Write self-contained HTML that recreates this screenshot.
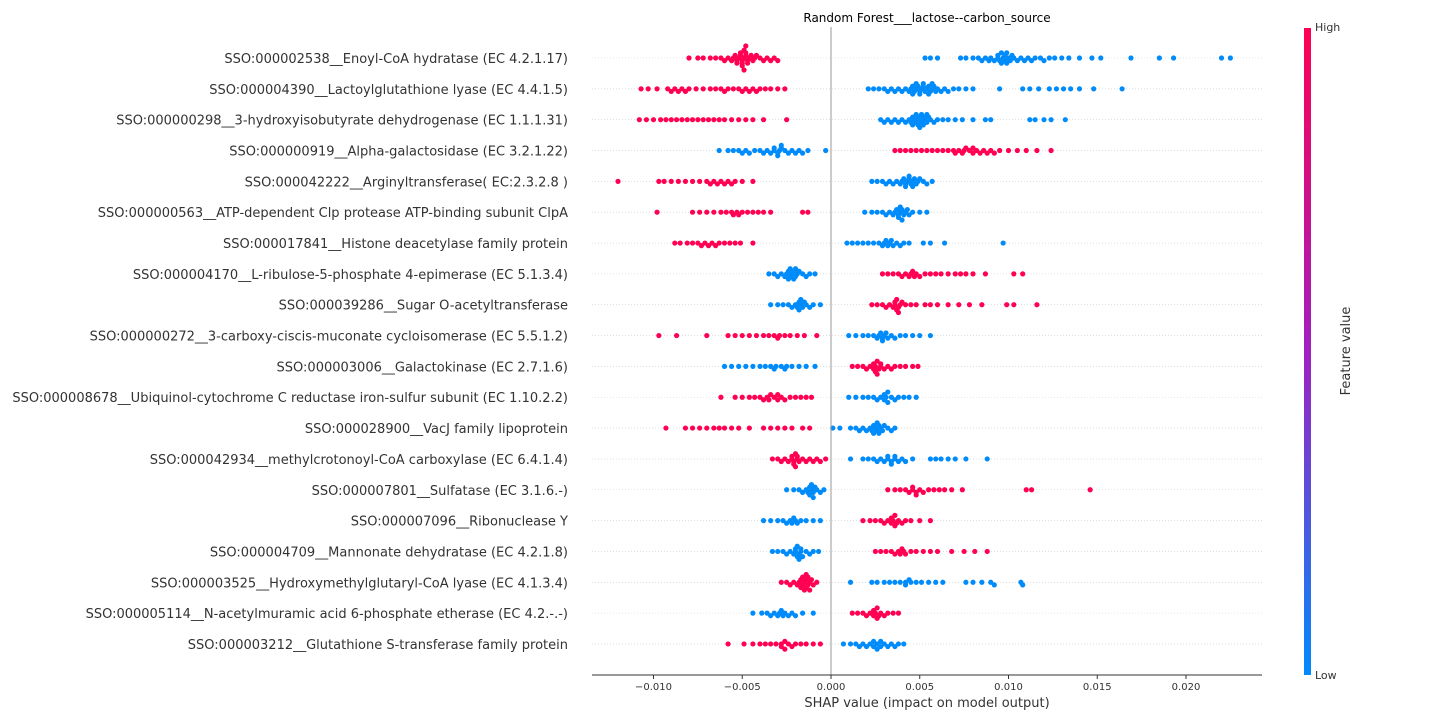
<!DOCTYPE html>
<html><head><meta charset="utf-8"><style>
body{margin:0;background:#fff;font-family:"Liberation Sans","DejaVu Sans",sans-serif}
svg text{font-family:"DejaVu Sans","Liberation Sans",sans-serif}
</style></head><body>
<svg id="chart" width="1440" height="720" xmlns="http://www.w3.org/2000/svg">
<defs><linearGradient id="cg" x1="0" y1="0" x2="0" y2="1"><stop offset="0" stop-color="#ff0052"/><stop offset="0.5" stop-color="#a020c0"/><stop offset="1" stop-color="#008bfb"/></linearGradient></defs>
<text x="927" y="22" text-anchor="middle" font-size="12" fill="#000">Random Forest___lactose--carbon_source</text>
<g id="grid"></g><g id="labels"></g><g id="dots"></g><g id="axis"></g>
<rect x="1304" y="28" width="7" height="647" fill="url(#cg)"/>
<text x="1315" y="31" font-size="11" fill="#333">High</text>
<text x="1315" y="679" font-size="11" fill="#333">Low</text>
<text transform="translate(1350,351) rotate(-90)" text-anchor="middle" font-size="13" fill="#333">Feature value</text>
<text x="927" y="707" text-anchor="middle" font-size="13" fill="#333">SHAP value (impact on model output)</text>
</svg>
<script>
const features=["SSO:000002538__Enoyl-CoA hydratase (EC 4.2.1.17)","SSO:000004390__Lactoylglutathione lyase (EC 4.4.1.5)","SSO:000000298__3-hydroxyisobutyrate dehydrogenase (EC 1.1.1.31)","SSO:000000919__Alpha-galactosidase (EC 3.2.1.22)","SSO:000042222__Arginyltransferase( EC:2.3.2.8 )","SSO:000000563__ATP-dependent Clp protease ATP-binding subunit ClpA","SSO:000017841__Histone deacetylase family protein","SSO:000004170__L-ribulose-5-phosphate 4-epimerase (EC 5.1.3.4)","SSO:000039286__Sugar O-acetyltransferase","SSO:000000272__3-carboxy-ciscis-muconate cycloisomerase (EC 5.5.1.2)","SSO:000003006__Galactokinase (EC 2.7.1.6)","SSO:000008678__Ubiquinol-cytochrome C reductase iron-sulfur subunit (EC 1.10.2.2)","SSO:000028900__VacJ family lipoprotein","SSO:000042934__methylcrotonoyl-CoA carboxylase (EC 6.4.1.4)","SSO:000007801__Sulfatase (EC 3.1.6.-)","SSO:000007096__Ribonuclease Y","SSO:000004709__Mannonate dehydratase (EC 4.2.1.8)","SSO:000003525__Hydroxymethylglutaryl-CoA lyase (EC 4.1.3.4)","SSO:000005114__N-acetylmuramic acid 6-phosphate etherase (EC 4.2.-.-)","SSO:000003212__Glutathione S-transferase family protein"];
const xTicks=[-0.010,-0.005,0.000,0.005,0.010,0.015,0.020];
const xTickLabels=["\u22120.010","\u22120.005","0.000","0.005","0.010","0.015","0.020"];
// SHAP values in units of 1e-3; high feature value (red) and low (blue)
const highVals=[
[-8.0,-7.5,-7.2,-6.8,-6.5,-6.2,-6.0,-5.8,-5.6,-5.5,-5.4,-5.3,-5.2,-5.1,-5.0,-5.0,-4.9,-4.9,-4.8,-4.8,-4.7,-4.6,-4.5,-4.4,-4.3,-4.2,-4.0,-3.8,-3.6,-3.4,-3.2,-3.0,-5.3,-5.1,-4.9,-4.7,-5.0,-4.8],
[-10.7,-10.3,-9.8,-9.2,-9.0,-8.8,-8.6,-8.4,-8.2,-8.0,-7.6,-7.2,-6.8,-6.5,-6.2,-6.0,-5.8,-5.5,-5.2,-5.0,-4.8,-4.6,-4.4,-4.2,-4.0,-3.7,-3.4,-3.0,-2.6],
[-10.8,-10.4,-10.0,-9.6,-9.3,-9.0,-8.7,-8.4,-8.1,-7.8,-7.5,-7.2,-6.9,-6.6,-6.3,-6.0,-5.6,-5.2,-4.8,-4.4,-3.8,-2.5],
[3.6,3.9,4.2,4.5,4.8,5.1,5.4,5.7,6.0,6.3,6.6,6.9,7.2,7.4,7.6,7.8,8.0,8.2,8.4,8.6,8.8,9.0,9.2,9.5,10.0,10.5,11.0,11.6,12.4,7.0,7.5,8.0],
[-12.0,-9.7,-9.4,-9.0,-8.6,-8.2,-7.8,-7.4,-7.0,-6.8,-6.6,-6.4,-6.2,-6.0,-5.8,-5.6,-5.4,-5.0,-4.4],
[-9.8,-7.8,-7.4,-7.0,-6.6,-6.2,-5.9,-5.6,-5.3,-5.0,-4.7,-4.4,-4.1,-3.8,-3.4,-1.6,-1.3,-5.5,-5.2],
[-8.8,-8.5,-8.1,-7.8,-7.5,-7.3,-7.1,-6.9,-6.7,-6.5,-6.3,-6.0,-5.7,-5.4,-5.1,-4.4],
[2.9,3.2,3.5,3.8,4.0,4.2,4.4,4.6,4.8,5.0,5.3,5.6,5.9,6.2,6.6,7.0,7.3,7.6,8.0,8.7,10.3,10.8,4.5,4.7],
[2.3,2.6,2.9,3.1,3.3,3.5,3.6,3.7,3.8,3.9,4.0,4.2,4.5,4.8,5.3,5.6,6.0,6.6,7.2,7.8,8.5,9.9,10.3,11.6,3.6,3.7,3.8],
[-9.7,-8.7,-7.0,-5.8,-5.4,-5.0,-4.6,-4.2,-3.8,-3.5,-3.2,-2.9,-2.6,-2.3,-1.9,-1.5,-0.8,-3.0],
[1.2,1.5,1.8,2.0,2.2,2.4,2.5,2.6,2.7,2.8,3.0,3.2,3.4,3.6,3.9,4.2,4.6,4.9,2.4,2.6,2.8,2.5],
[-6.2,-5.4,-5.0,-4.6,-4.3,-4.0,-3.8,-3.6,-3.4,-3.2,-3.0,-2.8,-2.6,-2.3,-2.0,-1.7,-1.4,-1.1,-3.5,-3.0],
[-9.3,-8.2,-7.8,-7.4,-7.0,-6.6,-6.3,-6.0,-5.6,-5.2,-4.6,-3.8,-3.4,-3.0,-2.6,-2.2,-1.6,-1.2],
[-3.3,-3.0,-2.8,-2.6,-2.4,-2.2,-2.1,-2.0,-1.9,-1.8,-1.6,-1.4,-1.2,-1.0,-0.8,-0.6,-0.3,-2.2,-2.0,-1.9,-2.1],
[3.2,3.6,3.9,4.2,4.4,4.6,4.8,5.0,5.2,5.5,5.8,6.1,6.4,6.8,7.4,11.0,11.3,14.6,4.6,4.8],
[1.8,2.2,2.5,2.8,3.0,3.2,3.4,3.5,3.6,3.7,3.8,4.0,4.2,4.5,5.0,5.6,3.4,3.6],
[2.5,2.8,3.1,3.4,3.6,3.8,4.0,4.2,4.5,4.8,5.2,5.6,6.0,6.8,7.5,8.1,8.8,3.9,4.1],
[-2.8,-2.5,-2.3,-2.1,-1.9,-1.8,-1.7,-1.6,-1.5,-1.4,-1.3,-1.2,-1.1,-1.0,-0.8,-1.6,-1.5,-1.4,-1.3,-1.2,-1.7,-1.4],
[1.2,1.5,1.8,2.0,2.2,2.4,2.5,2.6,2.7,2.8,3.0,3.2,3.5,3.8,2.4,2.6],
[-5.8,-4.9,-4.4,-4.0,-3.7,-3.4,-3.1,-2.8,-2.6,-2.4,-2.2,-2.0,-1.7,-1.4,-1.0,-0.6,-2.8,-2.6]];
const lowVals=[
[5.3,5.6,6.0,7.3,7.6,8.0,8.3,8.5,8.7,8.9,9.0,9.2,9.4,9.5,9.6,9.7,9.8,9.9,10.0,10.1,10.3,10.5,10.7,10.9,11.1,11.3,11.5,11.8,12.0,12.3,12.6,13.0,13.4,14.0,14.7,15.2,16.9,18.5,19.3,22.0,22.5,9.6,9.8,10.2,9.4,9.9],
[2.1,2.4,2.7,3.0,3.2,3.4,3.6,3.8,4.0,4.2,4.4,4.5,4.6,4.7,4.8,4.9,5.0,5.1,5.2,5.3,5.4,5.5,5.6,5.7,5.8,5.9,6.0,6.2,6.4,6.6,6.9,7.2,7.6,8.0,9.5,10.8,11.2,11.7,12.3,12.7,13.1,13.5,14.0,14.8,16.4,4.8,5.0,5.2,5.5,5.7,4.6],
[2.8,3.0,3.2,3.4,3.6,3.8,4.0,4.2,4.4,4.5,4.6,4.7,4.8,4.9,5.0,5.1,5.2,5.3,5.4,5.5,5.6,5.8,6.0,6.3,6.6,7.0,7.4,8.0,8.7,9.0,11.2,11.5,12.0,12.4,13.2,4.6,4.8,5.0,5.2,5.4,4.9,5.1],
[-6.3,-5.8,-5.5,-5.2,-5.0,-4.8,-4.6,-4.3,-4.0,-3.8,-3.6,-3.4,-3.2,-3.0,-2.9,-2.8,-2.6,-2.4,-2.2,-2.0,-1.8,-1.6,-1.3,-0.3,-3.0,-2.8,-3.2],
[2.3,2.6,2.9,3.1,3.3,3.5,3.7,3.9,4.0,4.1,4.2,4.3,4.4,4.5,4.6,4.7,4.8,4.9,5.0,5.2,5.4,5.7,4.2,4.4,4.6],
[1.9,2.3,2.6,2.9,3.1,3.3,3.5,3.6,3.7,3.8,3.9,4.0,4.1,4.2,4.3,4.4,4.6,5.0,5.4,3.8,3.9,4.0],
[0.9,1.2,1.5,1.8,2.1,2.4,2.7,2.9,3.1,3.3,3.5,3.7,3.9,4.1,4.4,5.2,5.6,6.4,9.7,3.0,3.2,3.4],
[-3.5,-3.2,-3.0,-2.8,-2.6,-2.5,-2.4,-2.3,-2.2,-2.1,-2.0,-1.9,-1.8,-1.6,-1.4,-1.2,-0.9,-2.3,-2.1,-2.0,-2.4],
[-3.4,-3.0,-2.7,-2.4,-2.2,-2.0,-1.9,-1.8,-1.7,-1.6,-1.5,-1.4,-1.2,-1.0,-0.6,-1.8,-1.7],
[1.0,1.4,1.8,2.1,2.4,2.6,2.8,2.9,3.0,3.2,3.4,3.6,3.9,4.2,4.6,5.0,5.6,2.7,2.9,3.1],
[-6.0,-5.6,-5.2,-4.8,-4.4,-4.0,-3.7,-3.4,-3.1,-2.8,-2.5,-2.2,-1.8,-1.4,-0.9,-3.2,-2.6],
[1.0,1.4,1.8,2.1,2.4,2.6,2.8,3.0,3.1,3.2,3.4,3.6,3.8,4.1,4.4,4.8,3.0,3.2],
[0.1,0.5,1.1,1.4,1.6,1.8,2.0,2.2,2.4,2.6,2.7,2.8,2.9,3.0,3.2,3.4,3.6,2.3,2.5,2.7,2.4,2.6],
[1.1,1.8,2.1,2.4,2.6,2.8,3.0,3.2,3.4,3.6,3.8,4.0,4.2,4.6,5.6,5.9,6.2,6.6,7.0,7.6,8.8,3.2,3.4,3.6],
[-2.5,-2.1,-1.8,-1.6,-1.4,-1.3,-1.2,-1.1,-1.0,-0.9,-0.8,-0.6,-0.4,-1.2,-1.1,-1.0],
[-3.8,-3.4,-3.0,-2.7,-2.5,-2.3,-2.1,-1.9,-1.7,-1.4,-1.0,-0.6,-2.2,-2.0],
[-3.3,-3.0,-2.7,-2.5,-2.3,-2.1,-2.0,-1.9,-1.8,-1.7,-1.6,-1.4,-1.2,-1.0,-0.7,-1.9,-1.8,-1.7,-2.0],
[1.1,2.3,2.6,3.0,3.3,3.6,3.9,4.2,4.5,4.8,5.1,5.5,5.9,6.3,7.6,8.0,8.5,9.0,9.2,10.7,10.8,4.2,4.4],
[-4.4,-3.9,-3.6,-3.4,-3.2,-3.0,-2.8,-2.6,-2.4,-2.2,-2.0,-1.6,-1.0,-2.9,-2.7],
[0.7,1.1,1.4,1.6,1.8,2.0,2.2,2.4,2.6,2.8,3.0,3.2,3.4,3.6,3.8,4.1,2.4,2.6,2.8]];

const NS='http://www.w3.org/2000/svg';
const X0=592,X1=1262,xmin=-0.013465,xmax=0.024282;
const xs=v=>X0+(v-xmin)/(xmax-xmin)*(X1-X0);
const rowY=i=>58+i*30.84;
function mk(tag,attrs,parent){const e=document.createElementNS(NS,tag);for(const k in attrs)e.setAttribute(k,attrs[k]);parent.appendChild(e);return e;}
const grid=document.getElementById('grid'),labels=document.getElementById('labels'),dots=document.getElementById('dots'),axis=document.getElementById('axis');
features.forEach((f,i)=>{
  const y=rowY(i);
  const gl=mk('line',{x1:X0,x2:X1,y1:y,y2:y,stroke:'#ccc','stroke-width':0.6,'stroke-dasharray':'1,2'},grid);
  
  
  const t=mk('text',{x:568,y:y+5,'text-anchor':'end','font-size':13,fill:'#333'},labels);
  t.textContent=f;
  
  
  const pts=[];
  highVals[i].forEach(v=>pts.push({x:xs(v/1000),c:'#ff0052'}));
  lowVals[i].forEach(v=>pts.push({x:xs(v/1000),c:'#008bfb'}));
  pts.sort((a,b)=>a.x-b.x);
  const placed=[];
  pts.forEach(p=>{
    let off=0;
    for(let k=0;k<40;k++){
      const o=(k%2?1:-1)*Math.ceil(k/2)*2.6;
      if(placed.every(q=>Math.abs(q.x-p.x)>=4.6||Math.abs(q.o-o)>=2.6)){off=o;break;}
    }
    off=Math.max(-12,Math.min(12,off));
    placed.push({x:p.x,o:off});
    const c=mk('circle',{cx:p.x,cy:y+off,r:2.6,fill:p.c},dots);
    
    
  });
});
const zl=mk('line',{x1:xs(0),x2:xs(0),y1:27,y2:675,stroke:'#999','stroke-width':1},axis);


const bl=mk('line',{x1:X0,x2:X1,y1:675,y2:675,stroke:'#333','stroke-width':1},axis);


xTicks.forEach((v,k)=>{
  const x=xs(v);
  const tk=mk('line',{x1:x,x2:x,y1:675,y2:679,stroke:'#333'},axis);
  
  
  const tl=mk('text',{x:x,y:690,'text-anchor':'middle','font-size':10,fill:'#333'},axis);
  tl.textContent=xTickLabels[k];
  
  
});
</script>
</body></html>
